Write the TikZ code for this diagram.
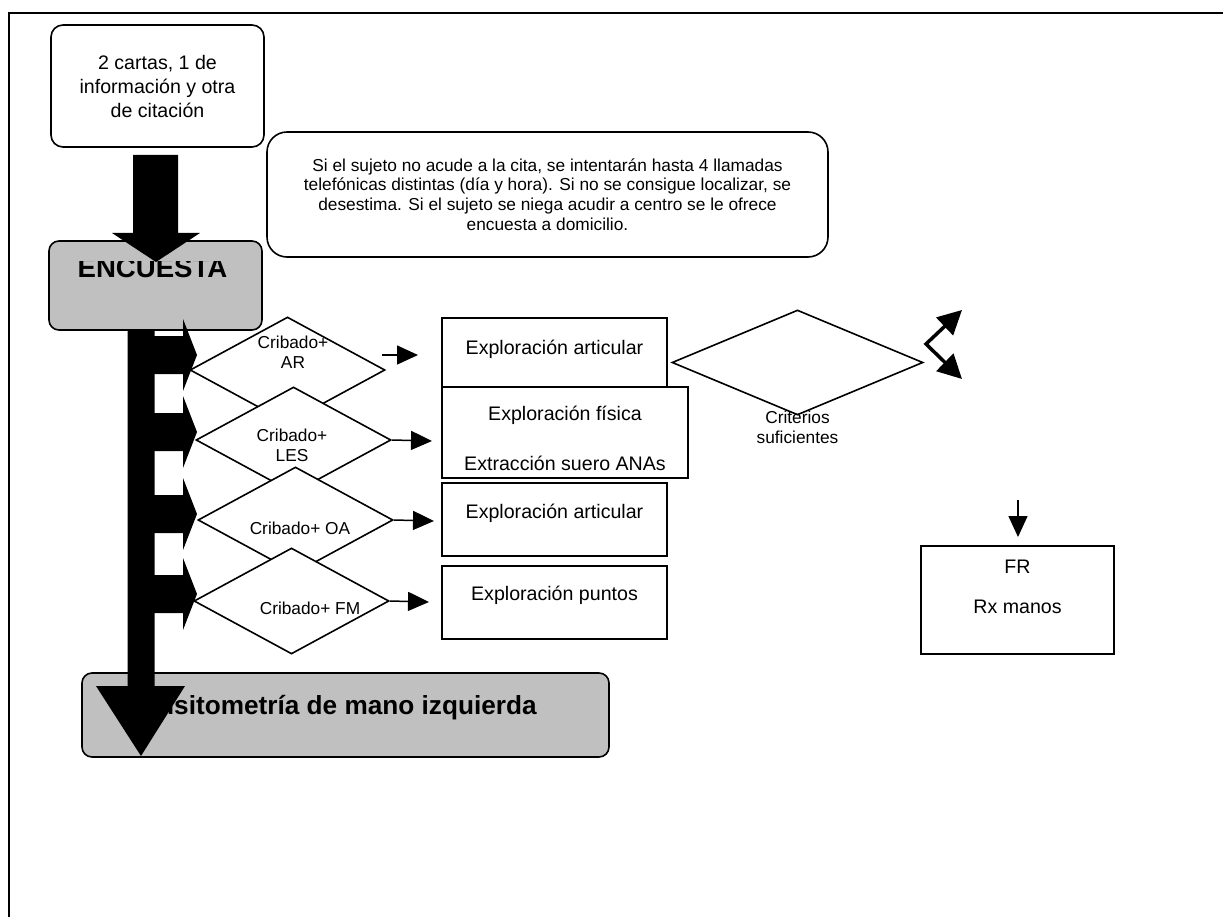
\documentclass[tikz,border=0pt]{standalone}
\usepackage{fontspec}
\setmainfont{Liberation Sans}
\usetikzlibrary{shapes.geometric, arrows.meta, positioning, calc}
\definecolor{boxgray}{HTML}{C0C0C0}

\begin{document}
\begin{tikzpicture}[x=1pt, y=-1pt,
  txt/.style={font=\fontsize{19.6}{24}\selectfont, align=center},
  small/.style={font=\fontsize{17.3}{19.8}\selectfont, align=center},
  heading/.style={font=\fontsize{27.6}{30}\selectfont\bfseries},
  subheading/.style={font=\fontsize{26.2}{30}\selectfont\bfseries},
  roundbox/.style={rectangle, draw, fill=white, line width=1.6pt, rounded corners=12pt, inner sep=0pt},
  graybox/.style={rectangle, draw, fill=boxgray, line width=1.6pt, rounded corners=10pt, inner sep=0pt},
  task/.style={rectangle, draw, fill=white, line width=1.6pt, inner sep=0pt},
  screen/.style={diamond, draw, fill=white, line width=1.6pt, inner sep=0pt, minimum width=195pt, minimum height=106pt},
  arrow/.style={-{Triangle[length=21pt, width=19pt]}, line width=1.5pt},
  fork/.style={{Triangle[length=24pt, width=24pt]}-{Triangle[length=24pt, width=24pt]}, line width=3.5pt}
]
  \useasboundingbox (0,0) rectangle (1223,917);
  \draw[line width=1.6pt] (9,917) -- (9,13) -- (1223,13);

  \node[roundbox, txt, minimum width=213pt, minimum height=122pt] (cartas) at (157.5,86) {2 cartas, 1 de\\información y otra\\de citación};
  \node[roundbox, small, rounded corners=20pt, minimum width=561pt, minimum height=125pt] (aviso) at (547.5,194.5)
    {Si el sujeto no acude a la cita, se intentarán hasta 4 llamadas\\telefónicas distintas (día y hora). Si no se consigue localizar, se\\desestima. Si el sujeto se niega acudir a centro se le ofrece\\encuesta a domicilio.};

  \node[graybox, minimum width=213pt, minimum height=89pt] (encuesta) at (155.5,285.5) {};
  \begin{scope}
    \clip (49,262) rectangle (262,330);
    \node[heading, anchor=base] (encuesta-txt) at (152.5,277) {ENCUESTA};
  \end{scope}
  \node[graybox, minimum width=527pt, minimum height=84pt,
    label={[subheading, anchor=base west, xshift=40pt, yshift=0.5pt]west:Densitometría de mano izquierda}] (densito) at (345.5,715) {};

  % cribados
  \node[screen, label={[small, xshift=5.5pt, yshift=18pt]center:{Cribado+\\AR}}] (ar) at (287.5,370) {};
  \node[screen, label={[small, xshift=-1.5pt, yshift=-5pt]center:{Cribado+\\LES}}] (les) at (293.5,440) {};
  \node[screen, label={[small, xshift=4.5pt, yshift=-8pt]center:{Cribado+ OA}}] (oa) at (295.5,520) {};
  \node[screen, label={[small, xshift=18.5pt, yshift=-7pt]center:{Cribado+ FM}}] (fm) at (291.5,601) {};

  \node[task, minimum width=225pt, minimum height=74pt, label={[txt, yshift=6pt]center:Exploración articular}] (art1) at (554.5,355) {};
  \node[task, minimum width=246pt, minimum height=91pt, label={[txt, yshift=-5.5pt]center:{Exploración física\\[26pt]Extracción suero ANAs}}] (fisica) at (565,432.5) {};
  \node[task, minimum width=225pt, minimum height=73pt, label={[txt, yshift=6.5pt]center:Exploración articular}] (art2) at (554.5,519.5) {};
  \node[task, minimum width=225pt, minimum height=73pt, label={[txt, yshift=7.5pt]center:Exploración puntos}] (puntos) at (554.5,602.5) {};

  \node[screen, minimum width=251pt, minimum height=105pt, label={[small, yshift=-64.5pt]center:{Criterios\\suficientes}}] (criterios) at (797.5,362.5) {};
  \node[task, minimum width=193pt, minimum height=108pt, label={[txt, yshift=13pt]center:{FR\\[16pt]Rx manos}}] (fr) at (1017.5,600) {};

  % block arrows
  \fill (133,155) -- (178,155) -- (178,233) -- (200,233) -- (156,262) -- (112,233) -- (133,233) -- cycle;
  \fill (127.5,330) -- (154.5,330) -- (154.5,686) -- (185,686) -- (141,756) -- (96,686) -- (127.5,686) -- cycle;
  \foreach \y in {355,432,514,594}
    \fill (154,\y-19) -- (183,\y-19) -- (183,\y-36) -- (197,\y) -- (183,\y+36) -- (183,\y+19) -- (154,\y+19) -- cycle;

  \coordinate (ar-out) at (382,355);
  \coordinate (ar-in) at (418,355);
  \coordinate (les-in) at (432,441);
  \coordinate (oa-in) at (434,521);
  \coordinate (fm-in) at (429,602);
  \draw[arrow] (ar-out) -- (ar-in);
  \draw[arrow] (les.east) -- (les-in);
  \draw[arrow] (oa.east) -- (oa-in);
  \draw[arrow] (fm.east) -- (fm-in);

  \coordinate (fork) at (926,344);
  \coordinate (fork-up) at (962,310);
  \coordinate (fork-down) at (962,379);
  \draw[fork] (fork-up) -- (fork) -- (fork-down);

  \coordinate (fr-out) at (1018,500);
  \coordinate (fr-in) at (1018,537);
  \draw[arrow] (fr-out) -- (fr-in);
\end{tikzpicture}
\end{document}
